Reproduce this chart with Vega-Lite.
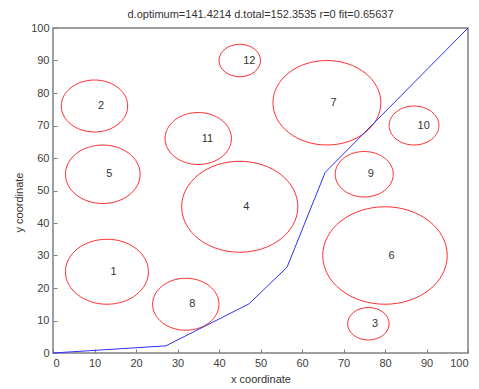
{
  "$schema": "https://vega.github.io/schema/vega-lite/v6.json",
  "width": 415,
  "height": 325,
  "autosize": {"type": "none"},
  "padding": {"left": 53, "top": 28, "right": 11, "bottom": 36},
  "background": "white",
  "title": {
    "text": "d.optimum=141.4214 d.total=152.3535 r=0 fit=0.65637",
    "font": "Liberation Sans",
    "fontSize": 11,
    "fontWeight": "normal",
    "color": "#333333",
    "anchor": "middle",
    "offset": 2
  },
  "datasets": {
    "circles": [
      {"id": "1", "x": 13, "y": 25, "r": 10},
      {"id": "2", "x": 10, "y": 76, "r": 8},
      {"id": "3", "x": 76, "y": 9, "r": 5},
      {"id": "4", "x": 45, "y": 45, "r": 14},
      {"id": "5", "x": 12, "y": 55, "r": 9},
      {"id": "6", "x": 80, "y": 30, "r": 15},
      {"id": "7", "x": 66, "y": 77, "r": 13},
      {"id": "8", "x": 32, "y": 15, "r": 8},
      {"id": "9", "x": 75, "y": 55, "r": 7},
      {"id": "10", "x": 87, "y": 70, "r": 6},
      {"id": "11", "x": 35, "y": 66, "r": 8},
      {"id": "12", "x": 45, "y": 90, "r": 5}
    ],
    "route": [
      {"i": 0, "x": 0, "y": 0},
      {"i": 1, "x": 27.2, "y": 2.2},
      {"i": 2, "x": 47.2, "y": 15.1},
      {"i": 3, "x": 56.4, "y": 26.4},
      {"i": 4, "x": 65.6, "y": 55.6},
      {"i": 5, "x": 100, "y": 100}
    ]
  },
  "config": {
    "view": {"stroke": "#808080", "strokeWidth": 1.5},
    "axis": {
      "domain": false,
      "grid": false,
      "ticks": true,
      "tickSize": -4,
      "tickColor": "#808080",
      "tickWidth": 1,
      "labelOverlap": false,
      "labelFont": "Liberation Sans",
      "labelFontSize": 11,
      "labelColor": "#404040",
      "titleFont": "Liberation Sans",
      "titleFontSize": 11,
      "titleFontWeight": "normal",
      "titleColor": "#333333"
    }
  },
  "encoding": {
    "x": {
      "field": "x",
      "type": "quantitative",
      "scale": {"domain": [0, 100], "nice": false},
      "axis": {
        "values": [0, 10, 20, 30, 40, 50, 60, 70, 80, 90, 100],
        "title": "x coordinate",
        "labelPadding": 8,
        "titlePadding": 5
      }
    },
    "y": {
      "field": "y",
      "type": "quantitative",
      "scale": {"domain": [0, 100], "nice": false},
      "axis": {
        "values": [0, 10, 20, 30, 40, 50, 60, 70, 80, 90, 100],
        "title": "y coordinate",
        "labelPadding": 8,
        "titlePadding": 6,
        "titleY": 174
      }
    }
  },
  "layer": [
    {
      "data": {"name": "circles"},
      "mark": {
        "type": "point",
        "shape": "M -1 0 A 1 0.7831 0 1 1 1 0 A 1 0.7831 0 1 1 -1 0 Z",
        "filled": false,
        "stroke": "#ff3030",
        "strokeWidth": 1,
        "opacity": 1
      },
      "encoding": {
        "size": {
          "field": "r",
          "type": "quantitative",
          "scale": {"type": "pow", "exponent": 2, "domain": [0, 15], "range": [0, 15500]},
          "legend": null
        }
      }
    },
    {
      "data": {"name": "circles"},
      "mark": {
        "type": "text",
        "align": "left",
        "baseline": "middle",
        "dx": 3.5,
        "font": "Liberation Sans",
        "fontSize": 11,
        "color": "#333333"
      },
      "encoding": {
        "text": {"field": "id"}
      }
    },
    {
      "data": {"name": "route"},
      "mark": {"type": "line", "color": "#3030ff", "strokeWidth": 1},
      "encoding": {
        "order": {"field": "i", "type": "quantitative"}
      }
    }
  ]
}
